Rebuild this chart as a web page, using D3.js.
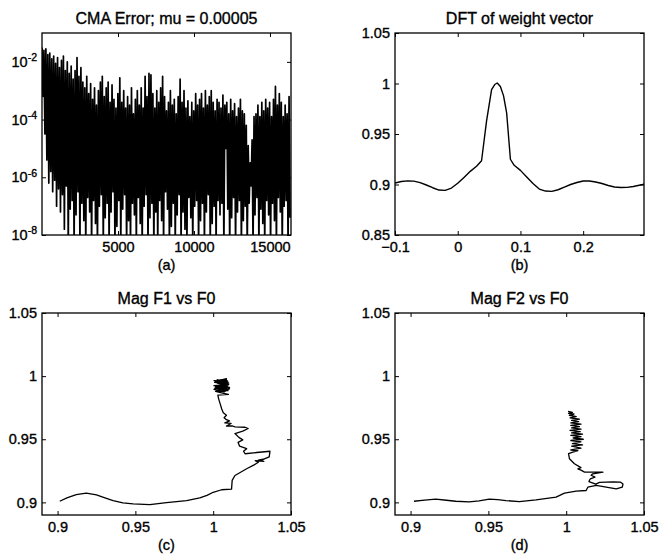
<!DOCTYPE html>
<html>
<head>
<meta charset="utf-8">
<script src="https://cdn.jsdelivr.net/npm/d3@7"></script>
<style>
  body { margin: 0; background: #fff; }
  svg { display: block; font-family: "Liberation Sans", Arial, Helvetica, sans-serif; }
  svg text { fill: #000; stroke: #000; stroke-width: 0.35px; }
</style>
</head>
<body>
<svg width="660" height="555"></svg>
<script>
/*
 * (a) CMA error: one peak and one dip (log10 of the error) read off
 * the picture for every 128 iterations, 16384 iterations in total
 */
var errSpan = 16384;
var errPeakLog = [
  -1.5, -1.6, -1.55, -1.75, -1.7, -1.9, -1.8, -2.05, -1.85, -2.2,
  -1.95, -1.8, -2.3, -2.0, -2.4, -2.15, -2.6, -2.3, -1.85, -2.5,
  -2.2, -2.7, -2.9, -2.5, -3.1, -2.75, -3.3, -2.9, -3.5, -3.0,
  -2.7, -2.5, -3.2, -2.9, -2.7, -3.4, -2.8, -3.3, -3.6, -3.1,
  -2.55, -3.4, -3.0, -3.6, -3.2, -3.5, -2.9, -3.8, -3.3, -3.0,
  -3.5, -2.9, -3.6, -2.5, -3.2, -2.4, -2.45, -3.1, -3.6, -3.0,
  -3.4, -2.9, -2.5, -3.2, -3.7, -3.4, -3.0, -3.5, -3.3, -3.8,
  -3.2, -2.6, -3.4, -3.0, -3.6, -3.35, -3.9, -3.4, -3.7, -3.1,
  -3.5, -3.3, -3.1, -3.6, -3.0, -3.5, -3.2, -3.0, -3.4, -3.7,
  -3.3, -3.4, -3.6, -3.15, -3.5, -3.4, -3.8, -3.3, -3.7, -3.45,
  -3.9, -3.6, -3.3, -3.7, -3.8, -4.2, -4.9, -5.5, -4.7, -3.9,
  -3.8, -3.5, -3.9, -3.4, -3.7, -3.3, -3.6, -3.4, -3.9, -3.3,
  -2.85, -3.5, -3.1, -3.4, -3.9, -3.5, -3.8, -3.2];
var errDipLog = [
  -3.2, -4.5, -5.4, -6.2, -5.8, -6.5, -6.1, -7.0, -6.4, -7.2,
  -6.6, -7.8, -6.3, -8.4, -7.1, -6.8, -8.4, -7.3, -6.5, -8.4,
  -6.9, -7.5, -8.4, -6.7, -7.2, -8.4, -6.8, -7.6, -8.4, -7.0,
  -6.6, -8.4, -7.4, -6.9, -8.4, -7.2, -6.5, -8.4, -7.7, -6.8,
  -8.4, -7.1, -6.6, -8.4, -7.5, -8.4, -6.9, -7.3, -8.4, -6.7,
  -7.6, -8.4, -7.0, -6.6, -8.4, -7.4, -6.9, -8.4, -7.2, -8.4,
  -6.8, -7.5, -8.4, -6.5, -7.1, -8.4, -7.7, -6.9, -8.4, -7.3,
  -6.6, -8.4, -7.2, -7.8, -8.4, -6.7, -7.4, -8.4, -7.0, -6.8,
  -8.4, -7.5, -6.9, -8.4, -7.2, -6.6, -8.4, -7.6, -7.0, -8.4,
  -6.8, -7.3, -6.9, -8.4, -5.0, -7.1, -8.4, -7.4, -6.7, -8.4,
  -7.2, -6.8, -8.4, -7.5, -7.0, -8.4, -6.9, -6.3, -8.4, -7.3,
  -6.7, -8.4, -7.1, -7.6, -8.4, -6.8, -7.3, -8.4, -6.9, -7.5,
  -8.4, -6.7, -7.2, -8.4, -7.0, -6.8, -8.4, -7.4];

// (b) DFT of the weight vector
var dftFreq = [-0.1, -0.09, -0.08, -0.07, -0.06, -0.05, -0.04, -0.03, -0.02, -0.01,
  0, 0.01, 0.02, 0.03, 0.038, 0.046, 0.054, 0.059, 0.063, 0.068, 0.073, 0.078, 0.084,
  0.09, 0.1, 0.11, 0.12, 0.13, 0.14, 0.15, 0.16, 0.17, 0.18, 0.19, 0.2, 0.21, 0.22,
  0.23, 0.24, 0.25, 0.26, 0.27, 0.28, 0.297];
var dftMag = [0.9015, 0.903, 0.9036, 0.9033, 0.9018, 0.8995, 0.8968, 0.8945, 0.8942, 0.8965,
  0.9012, 0.907, 0.913, 0.918, 0.9235, 0.963, 0.994, 0.999, 1.0005, 0.997, 0.988, 0.971, 0.925,
  0.919, 0.914, 0.9075, 0.901, 0.8955, 0.8935, 0.8932, 0.8948, 0.8975, 0.9, 0.902, 0.9035, 0.9035, 0.9025,
  0.901, 0.899, 0.8975, 0.897, 0.8972, 0.898, 0.9003];

// (c) magnitude of F1 against F0
var f1F0 = [0.9014, 0.906, 0.912, 0.9185, 0.925, 0.93, 0.9357, 0.942, 0.9486, 0.9593,
  0.97, 0.9829, 0.9914, 0.996, 1.0, 1.0054, 1.0118, 1.0122, 1.014, 1.0215, 1.026, 1.029,
  1.027, 1.0325, 1.029, 1.033, 1.031, 1.036, 1.0365, 1.028, 1.0205, 1.0195, 1.0215, 1.017,
  1.016, 1.019, 1.0165, 1.014, 1.019, 1.0225, 1.0205, 1.014, 1.0125,
  1.0085, 1.0115, 1.0075, 1.0105, 1.0085, 1.007, 1.0085, 1.0065,
  1.0055, 1.0045, 1.0035, 1.003, 1.0098,
  1.006, 1.0015, 1.0095, 1.001, 1.0105, 1.0005, 1.01, 1.001, 1.008, 1.0025, 1.0095,
  1.0005, 1.0075, 1.0015, 1.0095, 1.003, 1.008, 1.0025, 1.0085, 1.004, 1.0065, 1.0045,
  1.0095, 1.0005, 1.007, 1.0105, 1.002, 1.0085, 1.0035, 1.01, 1.0015, 1.006, 1.009,
  1.0025, 1.0075, 1.004, 1.0095, 1.003, 1.006];
var f1Mag = [0.9009, 0.9035, 0.9062, 0.9073, 0.906, 0.9038, 0.9014, 0.8996, 0.8988, 0.8982,
  0.8998, 0.9014, 0.9035, 0.9055, 0.908, 0.91, 0.9105, 0.9174, 0.9213, 0.9266, 0.9295, 0.9318,
  0.933, 0.9325, 0.9335, 0.9345, 0.9335, 0.936, 0.9405, 0.9395, 0.9385, 0.9405, 0.9425, 0.9445,
  0.9475, 0.9495, 0.9515, 0.9545, 0.9565, 0.9585, 0.9595, 0.9598, 0.9605,
  0.9605, 0.9625, 0.963, 0.9645, 0.9655, 0.967, 0.969, 0.971,
  0.974, 0.978, 0.982, 0.985, 0.9855,
  0.9865, 0.988, 0.9885, 0.9905, 0.991, 0.9925, 0.9935, 0.995, 0.9965, 0.997, 0.9955,
  0.9965, 0.9935, 0.9915, 0.9895, 0.9875, 0.9925, 0.9945, 0.9975, 0.9905, 0.9955, 0.993,
  0.9925, 0.9895, 0.9875, 0.99, 0.996, 0.998, 0.9945, 0.9945, 0.992, 0.9895, 0.9965,
  0.9905, 0.991, 0.9965, 0.9935, 0.9885, 0.993];

// (d) magnitude of F2 against F0
var f2F0 = [0.9022, 0.909, 0.9162, 0.923, 0.929, 0.9377, 0.944, 0.9506, 0.956, 0.9613,
  0.9699, 0.9806, 0.9935, 0.9989, 1.0064, 1.0128, 1.0139, 1.0193, 1.0257, 1.0322, 1.036,
  1.0365, 1.035, 1.03, 1.0214, 1.019, 1.0146, 1.0155, 1.0185, 1.016, 1.0171, 1.0236, 1.0118,
  1.0095, 1.0075, 1.0095, 1.0053, 1.0021, 1.0015, 1.0043,
  1.0075, 1.003, 1.0095, 1.0035, 1.0105, 1.004, 1.0095, 1.003, 1.011, 1.0045, 1.0095,
  1.003, 1.0105, 1.0035, 1.009, 1.0025, 1.0095, 1.0035, 1.0085, 1.003, 1.0095, 1.003,
  1.008, 1.0035, 1.0085, 1.0025, 1.0065, 1.002, 1.005, 1.0015, 1.004, 1.0012];
var f2Mag = [0.9009, 0.9018, 0.9025, 0.9017, 0.9009, 0.9004, 0.9012, 0.9025, 0.9021, 0.9014,
  0.9006, 0.902, 0.9041, 0.9073, 0.9089, 0.9094, 0.912, 0.9134, 0.912, 0.9107, 0.912,
  0.9145, 0.916, 0.9163, 0.9158, 0.9145, 0.9165, 0.9187, 0.92, 0.9215, 0.9226, 0.924, 0.924,
  0.9255, 0.9266, 0.9275, 0.9306, 0.9346, 0.9386, 0.9398,
  0.941, 0.9415, 0.943, 0.9445, 0.9455, 0.9465, 0.948, 0.949, 0.95, 0.951, 0.952,
  0.953, 0.954, 0.955, 0.956, 0.957, 0.958, 0.959, 0.96, 0.961, 0.962, 0.963,
  0.964, 0.965, 0.966, 0.967, 0.968, 0.969, 0.97, 0.9705, 0.9712, 0.972];

var panelTitles = ["CMA Error; mu = 0.00005", "DFT of weight vector", "Mag F1 vs F0", "Mag F2 vs F0"];
var panelCaptions = ["(a)", "(b)", "(c)", "(d)"];
var errTicks = [1e-8, 1e-6, 1e-4, 1e-2];
var iterTicks = [5000, 10000, 15000];
var freqTicks = [-0.1, 0, 0.1, 0.2];
var dftTicks = [0.85, 0.9, 0.95, 1, 1.05];
var magTicks = [0.9, 0.95, 1, 1.05];

var svg = d3.select("svg");
const larg = 249, alt = 202, tique = 4;

function numero(d) { return String(d).replace("-", "\u2212"); }

/*
 * Builds one boxed panel: frame, inward ticks on all four sides,
 * labels, title and caption. Returns the clipped group for the data.
 */
function painel(k, left, top, x, y, xTicks, yTicks, yFmt) {
  var g = svg.append("g").attr("transform", "translate(" + left + "," + top + ")");

  g.append("clipPath").attr("id", "clip" + k)
    .append("rect").attr("width", larg).attr("height", alt);

  var bottom = g.append("g").attr("transform", "translate(0," + alt + ")")
    .call(d3.axisBottom(x).tickValues(xTicks).tickSizeInner(-tique).tickSizeOuter(0)
      .tickPadding(7).tickFormat(numero));
  var topo = g.append("g")
    .call(d3.axisTop(x).tickValues(xTicks).tickSizeInner(-tique).tickSizeOuter(0).tickFormat(""));
  var esq = g.append("g")
    .call(d3.axisLeft(y).tickValues(yTicks).tickSizeInner(-tique).tickSizeOuter(0)
      .tickPadding(5).tickFormat(yFmt || numero));
  var dir = g.append("g").attr("transform", "translate(" + larg + ",0)")
    .call(d3.axisRight(y).tickValues(yTicks).tickSizeInner(-tique).tickSizeOuter(0).tickFormat(""));

  [bottom, topo, esq, dir].forEach(function(a) {
    a.attr("font-size", 14.5).attr("font-family", null);
    a.select(".domain").remove();
    a.selectAll(".tick line").attr("stroke", "#000").attr("stroke-width", 1);
  });

  g.append("rect").attr("width", larg).attr("height", alt)
    .attr("fill", "none").attr("stroke", "#000").attr("stroke-width", 1.3);

  g.append("text").attr("x", larg / 2).attr("y", -9)
    .attr("text-anchor", "middle").attr("font-size", 16).text(panelTitles[k]);
  g.append("text").attr("x", larg / 2).attr("y", alt + 35)
    .attr("text-anchor", "middle").attr("font-size", 14.5).text(panelCaptions[k]);

  return { g: g, esq: esq, plot: g.append("g").attr("clip-path", "url(#clip" + k + ")") };
}

function traco(plot, pts, x, y, espessura) {
  plot.append("path")
    .datum(pts)
    .attr("fill", "none")
    .attr("stroke", "#000")
    .attr("stroke-width", espessura)
    .attr("stroke-linejoin", "round")
    .attr("d", d3.line().x(function(d){return x(d[0]);}).y(function(d){return y(d[1]);}));
}

// (a) CMA error on a log axis
var xA = d3.scaleLinear().domain([0, errSpan]).range([0, larg]);
var yA = d3.scaleLog().domain([1e-8, 1e-1]).range([alt, 0]);
var pA = painel(0, 42, 33, xA, yA, iterTicks, errTicks, function(){ return ""; });
pA.esq.selectAll(".tick text").each(function(d) {
  var t = d3.select(this);
  t.text("10");
  t.append("tspan").attr("dy", "-0.55em").attr("font-size", 10.5).text(Math.round(Math.log10(d)));
});
var amostras = [];
errPeakLog.forEach(function(p, k) {
  amostras.push([k * 128, Math.pow(10, p)]);
  amostras.push([k * 128 + 64, Math.pow(10, errDipLog[k])]);
});
traco(pA.plot, amostras, xA, yA, 1.7);

// (b) DFT of the weight vector
var xB = d3.scaleLinear().domain([-0.1, 0.297]).range([0, larg]);
var yB = d3.scaleLinear().domain([0.85, 1.05]).range([alt, 0]);
var pB = painel(1, 395, 33, xB, yB, freqTicks, dftTicks);
traco(pB.plot, dftFreq.map(function(f, k){ return [f, dftMag[k]]; }), xB, yB, 1.4);

// (c) and (d) trajectories
var xC = d3.scaleLinear().domain([0.89, 1.05]).range([0, larg]);
var yC = d3.scaleLinear().domain([0.89, 1.05]).range([alt, 0]);
var pC = painel(2, 42, 313, xC, yC, magTicks, magTicks);
traco(pC.plot, f1F0.map(function(v, k){ return [v, f1Mag[k]]; }), xC, yC, 1.3);

var pD = painel(3, 395, 313, xC, yC, magTicks, magTicks);
traco(pD.plot, f2F0.map(function(v, k){ return [v, f2Mag[k]]; }), xC, yC, 1.3);
</script>
</body>
</html>
